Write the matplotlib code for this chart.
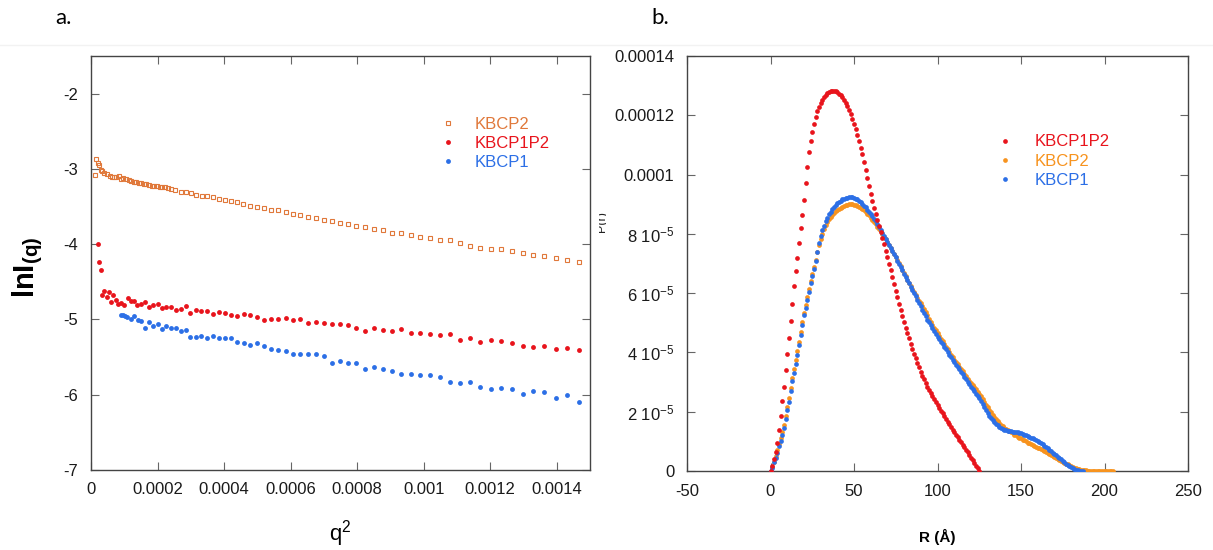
import numpy as np
import matplotlib
matplotlib.use("Agg")
import matplotlib.pyplot as plt
from matplotlib.lines import Line2D
from matplotlib.transforms import Bbox

plt.rcParams['font.family'] = ['Liberation Sans', 'DejaVu Sans']
plt.rcParams['mathtext.fontset'] = 'custom'
plt.rcParams['mathtext.rm'] = 'Liberation Sans'
plt.rcParams['mathtext.bf'] = 'Liberation Sans:bold'
plt.rcParams['mathtext.default'] = 'regular'
plt.rcParams['axes.unicode_minus'] = False

# ---------------- panel a: Guinier plot data ----------------
q2_kbcp2 = [1.2e-5, 1.6e-5, 2.1e-5, 2.5e-5, 3.0e-5, 3.4e-5, 4.0e-5, 4.8e-5, 5.6e-5, 6.3e-5,
            7.0e-5, 7.6e-5, 8.3e-5, 9.0e-5, 9.7e-5, 1.05e-4, 1.13e-4, 1.21e-4, 1.28e-4, 1.36e-4,
            1.43e-4, 1.51e-4, 1.58e-4, 1.66e-4, 1.74e-4, 1.82e-4, 1.90e-4, 1.98e-4, 2.06e-4, 2.14e-4,
            2.23e-4, 2.30e-4, 2.40e-4, 2.54e-4, 2.70e-4, 2.86e-4, 3.00e-4, 3.17e-4, 3.33e-4, 3.50e-4,
            3.67e-4, 3.85e-4, 4.04e-4, 4.20e-4, 4.39e-4, 4.58e-4, 4.79e-4, 4.99e-4, 5.19e-4, 5.41e-4,
            5.63e-4, 5.85e-4, 6.06e-4, 6.28e-4, 6.53e-4, 6.75e-4, 7.00e-4, 7.24e-4, 7.48e-4, 7.73e-4,
            7.98e-4, 8.25e-4, 8.52e-4, 8.79e-4, 9.06e-4, 9.32e-4, 9.61e-4, 9.90e-4, 1.018e-3, 1.048e-3,
            1.078e-3, 1.108e-3, 1.138e-3, 1.170e-3, 1.201e-3, 1.233e-3, 1.265e-3, 1.298e-3, 1.330e-3,
            1.363e-3, 1.398e-3, 1.432e-3, 1.467e-3]
lnI_kbcp2 = [-3.080, -2.867, -2.920, -2.942, -3.018, -3.027, -3.053, -3.071, -3.088, -3.106,
             -3.106, -3.102, -3.097, -3.137, -3.124, -3.137, -3.150, -3.159, -3.168, -3.177,
             -3.186, -3.186, -3.195, -3.204, -3.212, -3.221, -3.226, -3.230, -3.235, -3.239,
             -3.243, -3.252, -3.265, -3.283, -3.305, -3.310, -3.319, -3.350, -3.354, -3.363,
             -3.376, -3.394, -3.412, -3.420, -3.442, -3.465, -3.491, -3.500, -3.518, -3.540,
             -3.549, -3.571, -3.602, -3.611, -3.637, -3.646, -3.673, -3.690, -3.721, -3.735,
             -3.757, -3.770, -3.801, -3.814, -3.845, -3.854, -3.881, -3.903, -3.916, -3.938,
             -3.951, -3.982, -4.022, -4.049, -4.058, -4.062, -4.088, -4.115, -4.146,
             -4.159, -4.177, -4.208, -4.235]

q2_kbcp1p2 = [2.1e-5, 2.5e-5, 3.0e-5, 3.4e-5, 4.0e-5, 4.8e-5, 5.4e-5, 6.0e-5, 6.6e-5, 7.4e-5,
              8.2e-5, 9.0e-5, 1.00e-4, 1.10e-4, 1.19e-4, 1.28e-4, 1.39e-4, 1.50e-4, 1.62e-4, 1.75e-4,
              1.87e-4, 2.00e-4, 2.13e-4, 2.26e-4, 2.39e-4, 2.55e-4, 2.70e-4, 2.86e-4, 2.99e-4, 3.15e-4,
              3.31e-4, 3.49e-4, 3.67e-4, 3.85e-4, 4.03e-4, 4.20e-4, 4.40e-4, 4.59e-4, 4.79e-4, 4.99e-4,
              5.20e-4, 5.41e-4, 5.63e-4, 5.85e-4, 6.06e-4, 6.28e-4, 6.53e-4, 6.75e-4, 7.00e-4, 7.24e-4,
              7.48e-4, 7.73e-4, 7.98e-4, 8.25e-4, 8.52e-4, 8.79e-4, 9.06e-4, 9.32e-4, 9.61e-4, 9.90e-4,
              1.018e-3, 1.048e-3, 1.078e-3, 1.108e-3, 1.138e-3, 1.170e-3, 1.201e-3, 1.233e-3, 1.265e-3,
              1.298e-3, 1.330e-3, 1.363e-3, 1.398e-3, 1.432e-3, 1.467e-3]
lnI_kbcp1p2 = [-4.004, -4.235, -4.341, -4.673, -4.619, -4.708, -4.637, -4.774, -4.681, -4.735,
               -4.801, -4.783, -4.810, -4.721, -4.761, -4.761, -4.810, -4.801, -4.770, -4.841,
               -4.814, -4.796, -4.854, -4.836, -4.836, -4.876, -4.858, -4.827, -4.912, -4.881,
               -4.894, -4.894, -4.929, -4.903, -4.920, -4.938, -4.956, -4.925, -4.947, -4.965,
               -5.013, -4.991, -4.991, -4.978, -5.009, -4.991, -5.049, -5.035, -5.053, -5.066,
               -5.062, -5.075, -5.115, -5.155, -5.119, -5.146, -5.155, -5.128, -5.177, -5.186,
               -5.190, -5.208, -5.199, -5.270, -5.243, -5.296, -5.279, -5.292, -5.319,
               -5.354, -5.372, -5.358, -5.389, -5.376, -5.412]

q2_kbcp1 = [9.0e-5, 9.6e-5, 1.02e-4, 1.08e-4, 1.19e-4, 1.30e-4, 1.40e-4, 1.50e-4, 1.62e-4, 1.75e-4,
            1.87e-4, 2.00e-4, 2.13e-4, 2.26e-4, 2.39e-4, 2.55e-4, 2.70e-4, 2.86e-4, 2.99e-4, 3.15e-4,
            3.31e-4, 3.49e-4, 3.67e-4, 3.85e-4, 4.03e-4, 4.20e-4, 4.40e-4, 4.59e-4, 4.79e-4, 4.99e-4,
            5.20e-4, 5.41e-4, 5.63e-4, 5.85e-4, 6.06e-4, 6.28e-4, 6.53e-4, 6.75e-4, 7.00e-4, 7.24e-4,
            7.48e-4, 7.73e-4, 7.98e-4, 8.25e-4, 8.52e-4, 8.79e-4, 9.06e-4, 9.32e-4, 9.61e-4, 9.90e-4,
            1.018e-3, 1.048e-3, 1.078e-3, 1.108e-3, 1.138e-3, 1.170e-3, 1.201e-3, 1.233e-3, 1.265e-3,
            1.298e-3, 1.330e-3, 1.363e-3, 1.398e-3, 1.432e-3, 1.467e-3]
lnI_kbcp1 = [-4.942, -4.947, -4.956, -4.965, -4.991, -4.956, -5.009, -5.018, -5.119, -5.035,
             -5.093, -5.058, -5.133, -5.088, -5.115, -5.119, -5.155, -5.142, -5.235, -5.235,
             -5.217, -5.252, -5.217, -5.243, -5.248, -5.248, -5.301, -5.319, -5.341, -5.310,
             -5.354, -5.398, -5.407, -5.425, -5.460, -5.460, -5.460, -5.460, -5.482, -5.575,
             -5.558, -5.580, -5.584, -5.655, -5.633, -5.659, -5.690, -5.726, -5.726, -5.743,
             -5.743, -5.761, -5.832, -5.845, -5.832, -5.898, -5.925, -5.916, -5.925,
             -5.987, -5.951, -5.969, -6.044, -6.000, -6.097]

q2_ticks = [0, 0.0002, 0.0004, 0.0006, 0.0008, 0.001, 0.0012, 0.0014]
q2_ticklabels = ['0', '0.0002', '0.0004', '0.0006', '0.0008', '0.001', '0.0012', '0.0014']

# ---------------- panel b: P(r) data (values in units of 1e-6) ----------------
r_kbcp1p2 = np.arange(0, 126)
p_kbcp1p2 = [0, 1.8, 4, 6.3, 9.5, 14, 18.5, 23.5, 28.5, 34, 39.5, 45, 50.5, 56.5, 62.5, 67.5,
             72, 77, 82, 86.5, 91.5, 97, 102.5, 107.5, 111.2, 114.5, 117.2, 119.5, 121.3, 122.8,
             124, 125.2, 126.2, 127, 127.6, 128, 128.2, 128.3, 128.3, 128.1, 127.8, 127.3, 126.7,
             126, 125.1, 124.1, 123, 121.7, 120.3, 118.8, 117.1, 115.3, 113.4, 111.3, 109.1, 106.8,
             104.3, 101.5, 98.7, 96, 93.4, 91, 88.8, 86.6, 84.6, 82.6, 80.7, 78.6, 76.5, 74.3, 72.1,
             69.9, 67.7, 65.4, 63.1, 60.8, 58.6, 56.4, 54.2, 52.2, 50.3, 48.4, 46.6, 44.8, 43, 41.3,
             39.6, 38, 36.5, 35, 33.5, 32.2, 30.9, 29.7, 28.5, 27.4, 26.4, 25.4, 24.4, 23.4, 22.4,
             21.4, 20.4, 19.4, 18.4, 17.5, 16.6, 15.7, 14.8, 13.9, 13, 12.2, 11.4, 10.5, 9.7, 8.9,
             8.0, 7.2, 6.3, 5.4, 4.5, 3.6, 2.7, 1.8, 0.9, 0]

r_kbcp2 = np.arange(0, 206)
p_kbcp2 = [0, 1.3, 3.2, 5, 7, 9.2, 11, 13, 15.5, 18.5, 21.5, 24.5, 28, 31.5, 34.3, 37.3, 40.4,
           43.6, 46.8, 50.1, 53.3, 56, 58.7, 61.4, 64.1, 66.5, 68.8, 71.3, 73.9, 76.3, 78.4, 80.1,
           81.6, 82.9, 84.0, 85.0, 85.8, 86.5, 87.1, 87.6, 88.0, 88.4, 88.8, 89.1, 89.4, 89.7, 89.9,
           90.0, 90.0, 90.0, 89.9, 89.7, 89.5, 89.2, 88.8, 88.4, 88.0, 87.4, 86.8, 86.2, 85.5, 84.8,
           84.0, 83.2, 82.4, 81.6, 80.8, 79.9, 79.0, 78.1, 77.2, 76.3, 75.3, 74.3, 73.3, 72.3, 71.2,
           70.1, 69.0, 67.9, 66.8, 65.7, 64.6, 63.5, 62.4, 61.3, 60.3, 59.3, 58.4, 57.5, 56.6, 55.6,
           54.6, 53.6, 52.5, 51.4, 50.4, 49.4, 48.4, 47.4, 46.4, 45.5, 44.6, 43.7, 42.8, 41.9, 41.0,
           40.1, 39.2, 38.4, 37.6, 36.8, 36.0, 35.2, 34.4, 33.6, 32.8, 32.0, 31.2, 30.4, 29.6, 28.9,
           28.2, 27.5, 26.8, 26.1, 25.2, 24.3, 23.4, 22.4, 21.5, 20.6, 19.8, 19.0, 18.2, 17.5, 16.8,
           16.2, 15.6, 15.1, 14.6, 14.2, 13.8, 13.4, 13.0, 12.7, 12.3, 12.0, 11.6, 11.3, 11.0, 10.6,
           10.3, 10.0, 9.6, 9.3, 9.0, 8.7, 8.5, 8.2, 7.9, 7.6, 7.3, 7.0, 6.8, 6.5, 6.2, 5.8, 5.5,
           5.1, 4.8, 4.5, 4.1, 3.8, 3.4, 3.1, 2.8, 2.5, 2.2, 1.9, 1.6, 1.4, 1.1, 0.9, 0.7, 0.6, 0.5,
           0.4, 0.3, 0.2, 0.15, 0.1, 0.08, 0.05, 0.03, 0.02, 0, 0, 0, 0, 0, 0, 0, 0, 0, 0]

r_kbcp1 = np.arange(0, 188)
p_kbcp1 = [0, 1, 2.9, 4.3, 6.2, 8.4, 10.1, 12.1, 14.6, 17.6, 20.5, 23.4, 27, 30.5, 33.2, 36.2,
           39.3, 42.6, 45.8, 49.2, 52.5, 55, 57.7, 60.5, 63.4, 65.8, 68, 70.7, 73.8, 76.8, 79.3,
           81.3, 82.8, 84.2, 85.5, 86.6, 87.5, 88.3, 89.1, 89.8, 90.4, 90.8, 91.2, 91.6, 91.8, 92,
           92.2, 92.3, 92.3, 92.3, 92.1, 91.9, 91.6, 91.2, 90.7, 90.1, 89.5, 88.9, 88.2, 87.5, 86.7,
           85.9, 85.1, 84.2, 83.3, 82.3, 81.3, 80.3, 79.3, 78.3, 77.3, 76.3, 75.3, 74.3, 73.2, 72.1,
           71, 69.9, 68.8, 67.7, 66.6, 65.5, 64.4, 63.3, 62.2, 61.1, 60, 58.9, 57.8, 56.6, 55.5,
           54.4, 53.3, 52.2, 51.1, 50.1, 49.1, 48.1, 47.1, 46.2, 45.3, 44.4, 43.6, 42.7, 41.8, 41,
           40.1, 39.3, 38.4, 37.6, 36.8, 35.9, 35.1, 34.3, 33.4, 32.6, 31.8, 30.9, 30.1, 29.3, 28.5,
           27.7, 26.9, 26.1, 25.3, 24.5, 23.5, 22.5, 21.5, 20.5, 19.5, 18.6, 17.8, 17.1, 16.5, 15.9,
           15.4, 15.0, 14.6, 14.3, 14.0, 13.8, 13.6, 13.5, 13.4, 13.3, 13.2, 13.1, 13.0, 12.8, 12.7,
           12.5, 12.3, 12.1, 11.8, 11.6, 11.3, 11.0, 10.7, 10.4, 10.1, 9.8, 9.4, 9.0, 8.6, 8.1, 7.6,
           7.2, 6.7, 6.2, 5.8, 5.3, 4.8, 4.4, 3.9, 3.4, 3.0, 2.5, 2.0, 1.6, 1.2, 0.9, 0.6, 0.4, 0.2,
           0.1, 0.0, 0.0]

pr_ticks = [0, 2e-5, 4e-5, 6e-5, 8e-5, 1e-4, 1.2e-4, 1.4e-4]
pr_ticklabels = ['0', '2 10$^{-5}$', '4 10$^{-5}$', '6 10$^{-5}$', '8 10$^{-5}$',
                 '0.0001', '0.00012', '0.00014']
r_ticks = [-50, 0, 50, 100, 150, 200, 250]

c_orange_a = '#E0783A'
c_red = '#E8141C'
c_blue = '#2C6FE6'
c_orange_b = '#F7931E'

fig = plt.figure(figsize=(12.13, 5.5), dpi=100)
ax1 = fig.add_axes([91 / 1213, 80 / 550, 499 / 1213, 414 / 550])
ax2 = fig.add_axes([687 / 1213, 79 / 550, 501 / 1213, 415 / 550])


def style_axes(ax):
    for s in ax.spines.values():
        s.set_color('#444444')
        s.set_linewidth(1.0)
    ax.tick_params(direction='in', length=6, width=0.8, color='#666666',
                   top=True, right=True, labelsize=12, pad=9, labelcolor='#1a1a1a')


# panel a
ax1.plot(q2_kbcp2, lnI_kbcp2, 's', ms=3.2, mfc='none', mec=c_orange_a, mew=0.8, label='KBCP2')
ax1.plot(q2_kbcp1p2, lnI_kbcp1p2, 'o', ms=3.5, color=c_red, mew=0, label='KBCP1P2')
ax1.plot(q2_kbcp1, lnI_kbcp1, 'o', ms=3.5, color=c_blue, mew=0, label='KBCP1')
ax1.set_xlim(0, 0.0015)
ax1.set_ylim(-7, -1.5)
ax1.set_xticks(q2_ticks)
ax1.set_xticklabels(q2_ticklabels)
ax1.set_yticks([-7, -6, -5, -4, -3, -2])
style_axes(ax1)
ax1.set_xlabel(r'q$^2$', fontsize=16)
ax1.xaxis.set_label_coords(0.5, -0.115)
ax1.set_ylabel(r'$\mathbf{lnI_{(q)}}$', fontsize=21)
ax1.yaxis.set_label_coords(-0.093, 0.49)
ax1.legend(loc='upper left', bbox_to_anchor=(0.665, 0.89), frameon=False,
           fontsize=12, handlelength=1.2, handletextpad=1.0, labelspacing=0.25,
           labelcolor=[c_orange_a, c_red, c_blue])

# panel b
ax2.plot(r_kbcp2, np.array(p_kbcp2) * 1e-6, 'o', ms=3.4, color=c_orange_b, mew=0, label='KBCP2', zorder=3)
ax2.plot(r_kbcp1, np.array(p_kbcp1) * 1e-6, 'o', ms=3.4, color=c_blue, mew=0, label='KBCP1', zorder=4)
ax2.plot(r_kbcp1p2, np.array(p_kbcp1p2) * 1e-6, 'o', ms=3.4, color=c_red, mew=0, label='KBCP1P2', zorder=5)
ax2.set_xlim(-50, 250)
ax2.set_ylim(0, 0.00014)
ax2.set_xticks(r_ticks)
ax2.set_yticks(pr_ticks)
ax2.set_yticklabels(pr_ticklabels)
style_axes(ax2)
ax2.set_xlabel('R (Å)', fontsize=11, fontweight='bold')
ax2.xaxis.set_label_coords(0.5, -0.14)
h, l = ax2.get_legend_handles_labels()
order = [2, 0, 1]
ax2.legend([h[i] for i in order], [l[i] for i in order], loc='upper left',
           bbox_to_anchor=(0.585, 0.847), frameon=False, fontsize=12, handlelength=1.2,
           handletextpad=1.2, labelspacing=0.25, labelcolor=[c_red, c_orange_b, c_blue])

# clipped remnant of the P(r) axis label between panels
t = fig.text(602 / 1213, 1 - 222 / 550, 'P(r)', rotation=90, fontsize=9,
             ha='center', va='center', color='#222222')
t.set_clip_box(Bbox.from_extents(599, 312, 606, 340))
t.set_clip_on(True)

# panel labels and faint separator
fig.text(55 / 1213, 1 - 18 / 550, 'a.', fontsize=16, family='Lato', va='center')
fig.text(651 / 1213, 1 - 18 / 550, 'b.', fontsize=16, family='Lato', va='center')
fig.add_artist(Line2D([0, 1], [1 - 45 / 550, 1 - 45 / 550], color='#f2f2f2', lw=1))

fig.savefig('out.png', dpi=100)
